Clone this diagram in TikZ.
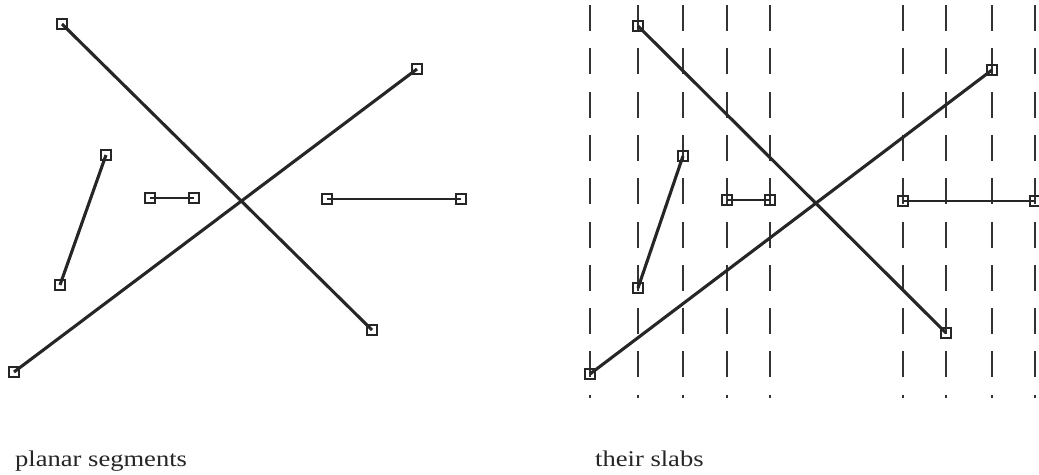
\documentclass[tikz,border=0pt]{standalone}
\usepackage{fontspec}
\setmainfont{Liberation Serif}
\begin{document}
\begin{tikzpicture}[x=1pt,y=-1pt,
  ep/.style={draw=black!85, line width=2.2pt, minimum size=10.5pt, inner sep=0pt, outer sep=0pt},
  seg/.style={draw=black!85, line width=3.1pt},
  hseg/.style={draw=black!85, line width=2.2pt},
  slab/.style={draw=black!80, line width=2.9pt, dash pattern=on 26pt off 17.3pt},
  lbl/.style={anchor=base west, inner sep=0pt, text=black!85, font=\fontsize{22.5}{26}\selectfont}]
\useasboundingbox (0,0) rectangle (1039,474);
% ---------- slabs (right panel) ----------
\foreach \i/\x in {1/590,2/638,3/683,4/727,5/770,6/903,7/946,8/992,9/1035}{
  \coordinate (t\i) at (\x,5);
  \coordinate (b\i) at (\x,398);
  \draw[slab] (t\i) -- (b\i);
}
% ---------- left panel endpoints ----------
\node[ep] (la1) at (62,24) {};
\node[ep] (la2) at (372,330) {};
\node[ep] (lb1) at (14,372) {};
\node[ep] (lb2) at (417,69) {};
\node[ep] (lc1) at (106,155) {};
\node[ep] (lc2) at (60,285) {};
\node[ep] (ld1) at (150,198) {};
\node[ep] (ld2) at (194,198) {};
\node[ep] (le1) at (327,199) {};
\node[ep] (le2) at (461,199) {};
% ---------- right panel endpoints ----------
\node[ep] (ra1) at (638,26) {};
\node[ep] (ra2) at (946,333) {};
\node[ep] (rb1) at (590,374) {};
\node[ep] (rb2) at (992,70) {};
\node[ep] (rc1) at (683,156) {};
\node[ep] (rc2) at (638,288) {};
\node[ep] (rd1) at (727,200) {};
\node[ep] (rd2) at (770,200) {};
\node[ep] (re1) at (903,201) {};
\node[ep] (re2) at (1035,201) {};
% ---------- segments ----------
\foreach \p in {l,r}{
  \foreach \s in {a,b,c}{
    \draw[seg] (\p\s1.center) -- (\p\s2.center);
  }
  \foreach \s in {d,e}{
    \draw[hseg] (\p\s1.center) -- (\p\s2.center);
  }
}
% ---------- labels ----------
\node[lbl] (lt1) at (15,466) {\scalebox{1.18}[1]{planar segments}};
\node[lbl] (lt2) at (595,466) {\scalebox{1.18}[1]{their slabs}};
\end{tikzpicture}
\end{document}
